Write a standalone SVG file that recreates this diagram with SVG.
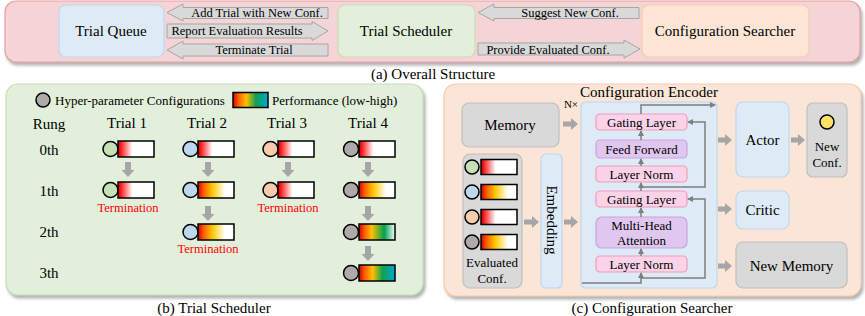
<svg xmlns="http://www.w3.org/2000/svg" width="865" height="316" viewBox="0 0 865 316">
<defs>
<style>
text{font-family:"Liberation Serif","Times New Roman",serif;fill:#000;dominant-baseline:central;text-anchor:middle}
.t15{font-size:15px}
.t13{font-size:13px}
.t12{font-size:12.5px}
.term{font-size:12.5px;fill:#ff0000}
.blk{fill:#d9d9d9;stroke:#a6a6a6;stroke-width:1}
.garr{fill:#a6a6a6}
.blue{fill:#deebf7;stroke:#bdd7ee;stroke-width:1.2}
.green{fill:#e2efda;stroke:#c5e0b4;stroke-width:1.2}
.peach{fill:#fde6d6;stroke:#f8cbad;stroke-width:1.2}
.gray{fill:#d9d9d9;stroke:#bfbfbf;stroke-width:1.2}
.pink{fill:#fbd3e9;stroke:#f29bb8;stroke-width:1.2}
.purp{fill:#e0c7ef;stroke:#c9a3df;stroke-width:1.2}
.c{stroke:#000;stroke-width:1.5}
.r{stroke:#000;stroke-width:1.5}
.cg{fill:#c5e0b4}.cb{fill:#bdd7ee}.cp{fill:#f8cbad}.ck{fill:#aeaaaa}
.ln{fill:none;stroke:#7f7f7f;stroke-width:1.5}
</style>
<filter id="sh" x="-5%" y="-10%" width="110%" height="125%">
<feDropShadow dx="2" dy="3" stdDeviation="1.5" flood-color="#7f7f7f" flood-opacity="0.6"/>
</filter>
<marker id="ah" markerWidth="6" markerHeight="6" refX="5" refY="3" orient="auto" markerUnits="userSpaceOnUse">
<path d="M0,0 L6,3 L0,6 z" fill="#7f7f7f"/>
</marker>
<linearGradient id="gRW" x1="0" y1="0" x2="1" y2="0">
<stop offset="0" stop-color="#c00000"/><stop offset="0.08" stop-color="#ff1a1a"/><stop offset="0.4" stop-color="#ffffff"/><stop offset="1" stop-color="#ffffff"/>
</linearGradient>
<linearGradient id="gROY" x1="0" y1="0" x2="1" y2="0">
<stop offset="0" stop-color="#d00000"/><stop offset="0.15" stop-color="#ff5a00"/><stop offset="0.4" stop-color="#ffc800"/><stop offset="0.75" stop-color="#ffffff"/><stop offset="1" stop-color="#ffffff"/>
</linearGradient>
<linearGradient id="gROYG" x1="0" y1="0" x2="1" y2="0">
<stop offset="0" stop-color="#d00000"/><stop offset="0.15" stop-color="#ff5a00"/><stop offset="0.35" stop-color="#ffc000"/><stop offset="0.7" stop-color="#00a050"/><stop offset="1" stop-color="#f4fff8"/>
</linearGradient>
<linearGradient id="gFull" x1="0" y1="0" x2="1" y2="0">
<stop offset="0" stop-color="#d00000"/><stop offset="0.15" stop-color="#ff5a00"/><stop offset="0.38" stop-color="#ffc000"/><stop offset="0.65" stop-color="#10a050"/><stop offset="1" stop-color="#00a8d0"/>
</linearGradient>
</defs>

<!-- Panel (a) -->
<g id="panel-a">
<rect x="5" y="1" width="855" height="61" rx="11" fill="#f5d4d6" stroke="#e8a0a4" stroke-width="1.2" filter="url(#sh)"/>
<text class="t15" x="433" y="74">(a) Overall Structure</text>
</g>
<g id="trial-queue">
<rect class="blue" x="59" y="5" width="105" height="52" rx="7"/>
<text class="t15" x="111" y="31">Trial Queue</text>
</g>
<g id="trial-scheduler">
<rect class="green" x="338" y="5" width="137" height="52" rx="7"/>
<text class="t15" x="406" y="31">Trial Scheduler</text>
</g>
<g id="configuration-searcher">
<rect class="peach" x="642" y="5" width="167" height="52" rx="7"/>
<text class="t15" x="725" y="31">Configuration Searcher</text>
</g>

<g id="top-connectors">
<polygon class="blk" points="167,12.5 183,4 183,7.5 328,7.5 328,18.5 183,18.5 183,21"/>
<text class="t12" x="257" y="13">Add Trial with New Conf.</text>
<polygon class="blk" points="167,24 312,24 312,21.5 328,31 312,40.5 312,38 167,38"/>
<text class="t12" x="237" y="31">Report Evaluation Results</text>
<polygon class="blk" points="167,50 183,41 183,44 328,44 328,56 183,56 183,59"/>
<text class="t12" x="254" y="50">Terminate Trial</text>
<polygon class="blk" points="478,12.5 494,4 494,7.5 639,7.5 639,18.5 494,18.5 494,21"/>
<text class="t12" x="570" y="13">Suggest New Conf.</text>
<polygon class="blk" points="478,43 624,43 624,40 640,49 624,58 624,55 478,55"/>
<text class="t12" x="548" y="49.5">Provide Evaluated Conf.</text>
</g>

<!-- Panel (b) -->
<g id="panel-b">
<rect x="6" y="84" width="417" height="211" rx="12" fill="#e2efda" stroke="#c5e0b4" stroke-width="1.2" filter="url(#sh)"/>
<text class="t15" x="214" y="308">(b) Trial Scheduler</text>
</g>
<g id="legend">
<circle class="c ck" cx="43" cy="100" r="7"/>
<text class="t13" x="55" y="100" style="text-anchor:start">Hyper-parameter Configurations</text>
<rect class="r" x="233" y="92.5" width="35" height="15" fill="url(#gFull)"/>
<text class="t13" x="272" y="100" style="text-anchor:start">Performance (low-high)</text>
</g>
<g id="headers">
<text class="t15" x="49" y="124">Rung</text>
<text class="t15" x="127" y="123">Trial 1</text>
<text class="t15" x="207" y="123">Trial 2</text>
<text class="t15" x="287" y="123">Trial 3</text>
<text class="t15" x="368" y="123">Trial 4</text>
<text class="t15" x="49" y="150">0th</text>
<text class="t15" x="49" y="191">1th</text>
<text class="t15" x="49" y="232">2th</text>
<text class="t15" x="49" y="273">3th</text>
</g>
<g id="trial1">
<circle class="c cg" cx="110.5" cy="149" r="7.5"/><rect class="r" x="118" y="141" width="36" height="16" fill="url(#gRW)"/>
<circle class="c cg" cx="110.5" cy="190" r="7.5"/><rect class="r" x="118" y="182" width="36" height="16" fill="url(#gRW)"/>
<text class="term" x="128" y="208">Termination</text>
</g>
<g id="trial2">
<circle class="c cb" cx="190.5" cy="149" r="7.5"/><rect class="r" x="198" y="141" width="36" height="16" fill="url(#gRW)"/>
<circle class="c cb" cx="190.5" cy="190" r="7.5"/><rect class="r" x="198" y="182" width="36" height="16" fill="url(#gROY)"/>
<circle class="c cb" cx="190.5" cy="232" r="7.5"/><rect class="r" x="198" y="224" width="36" height="16" fill="url(#gROY)"/>
<text class="term" x="208" y="249">Termination</text>
</g>
<g id="trial3">
<circle class="c cp" cx="270.5" cy="149" r="7.5"/><rect class="r" x="278" y="141" width="36" height="16" fill="url(#gRW)"/>
<circle class="c cp" cx="270.5" cy="190" r="7.5"/><rect class="r" x="278" y="182" width="36" height="16" fill="url(#gRW)"/>
<text class="term" x="288" y="208">Termination</text>
</g>
<g id="trial4">
<circle class="c ck" cx="351" cy="149" r="7.5"/><rect class="r" x="359" y="141" width="36" height="16" fill="url(#gRW)"/>
<circle class="c ck" cx="351" cy="190" r="7.5"/><rect class="r" x="359" y="182" width="36" height="16" fill="url(#gROY)"/>
<circle class="c ck" cx="351" cy="232" r="7.5"/><rect class="r" x="359" y="224" width="36" height="16" fill="url(#gROYG)"/>
<circle class="c ck" cx="351" cy="273" r="7.5"/><rect class="r" x="359" y="265" width="36" height="16" fill="url(#gFull)"/>
</g>
<g id="trial-connectors" class="garr">
<polygon points="125,162 131,162 131,170 134.5,170 128,177 121.5,170 125,170"/>
<polygon points="205,162 211,162 211,170 214.5,170 208,177 201.5,170 205,170"/>
<polygon points="285,162 291,162 291,170 294.5,170 288,177 281.5,170 285,170"/>
<polygon points="365,162 371,162 371,170 374.5,170 368,177 361.5,170 365,170"/>
<polygon points="205,206 211,206 211,214 214.5,214 208,221 201.5,214 205,214"/>
<polygon points="365,206 371,206 371,214 374.5,214 368,221 361.5,214 365,214"/>
<polygon points="365,246 371,246 371,254 374.5,254 368,261 361.5,254 365,254"/>
</g>

<!-- Panel (c) -->
<g id="panel-c">
<rect x="444" y="84" width="417" height="212" rx="12" fill="#fbe5d6" stroke="#f8cbad" stroke-width="1.2" filter="url(#sh)"/>
<text class="t15" x="652" y="308">(c) Configuration Searcher</text>
</g>
<g id="memory">
<rect class="gray" x="462" y="103" width="97" height="44" rx="7"/>
<text class="t15" x="510" y="125">Memory</text>
</g>
<g id="evaluated-conf">
<rect class="gray" x="463" y="154" width="59" height="134" rx="7"/>
<circle class="c cg" cx="472" cy="167" r="7"/><rect class="r" x="481" y="159.5" width="36" height="15" fill="url(#gRW)"/>
<circle class="c cb" cx="472" cy="192" r="7"/><rect class="r" x="481" y="184.5" width="36" height="15" fill="url(#gROY)"/>
<circle class="c cp" cx="472" cy="217" r="7"/><rect class="r" x="481" y="209.5" width="36" height="15" fill="url(#gRW)"/>
<circle class="c ck" cx="472" cy="242" r="7"/><rect class="r" x="481" y="234.5" width="36" height="15" fill="url(#gROY)"/>
<text class="t13" x="492" y="262">Evaluated</text>
<text class="t13" x="492" y="278">Conf.</text>
</g>
<g id="embedding">
<rect class="blue" x="541" y="154" width="21" height="134" rx="5"/>
<text class="t15" x="551.5" y="220" transform="rotate(90 551.5 220)">Embedding</text>
</g>
<g id="configuration-encoder">
<text class="t15" x="649" y="92">Configuration Encoder</text>
<text x="571" y="104" style="font-size:11px">N×</text>
<rect class="blue" x="581" y="102" width="136" height="186" rx="5"/>
</g>
<g id="gating-layer-2">
<rect class="pink" x="596" y="114" width="91" height="16" rx="4"/>
<text class="t13" x="641.5" y="122">Gating Layer</text>
</g>
<g id="feed-forward">
<rect class="purp" x="596" y="140" width="91" height="18" rx="4"/>
<text class="t13" x="641.5" y="149">Feed Forward</text>
</g>
<g id="layer-norm-2">
<rect class="pink" x="596" y="166" width="91" height="16" rx="4"/>
<text class="t13" x="641.5" y="174">Layer Norm</text>
</g>
<g id="gating-layer-1">
<rect class="pink" x="596" y="191" width="91" height="16" rx="4"/>
<text class="t13" x="641.5" y="199">Gating Layer</text>
</g>
<g id="multi-head-attention">
<rect class="purp" x="596" y="217" width="91" height="31" rx="6"/>
<text class="t13" x="641.5" y="225.5">Multi-Head</text>
<text class="t13" x="641.5" y="240">Attention</text>
</g>
<g id="layer-norm-1">
<rect class="pink" x="596" y="256" width="91" height="16" rx="4"/>
<text class="t13" x="641.5" y="264">Layer Norm</text>
</g>
<g id="actor">
<rect class="blue" x="736" y="102" width="53" height="75" rx="7"/>
<text class="t15" x="762.5" y="140">Actor</text>
</g>
<g id="new-conf">
<rect class="gray" x="807" y="103" width="40" height="74" rx="6"/>
<circle cx="827" cy="122" r="7" fill="#ffe066" stroke="#000" stroke-width="1.5"/>
<text class="t13" x="827" y="146">New</text>
<text class="t13" x="827" y="162">Conf.</text>
</g>
<g id="critic">
<rect class="blue" x="736" y="191" width="53" height="38" rx="7"/>
<text class="t15" x="762.5" y="210">Critic</text>
</g>
<g id="new-memory">
<rect class="gray" x="736" y="242" width="111" height="46" rx="7"/>
<text class="t15" x="791.5" y="266">New Memory</text>
</g>

<g id="searcher-connectors">
<g class="garr">
<polygon points="563,121.5 571,121.5 571,118 578,124 571,130 571,126.5 563,126.5"/>
<polygon points="524,219.5 532,219.5 532,216 539,222 532,228 532,224.5 524,224.5"/>
<polygon points="564,219.5 571,219.5 571,216 578,222 571,228 571,224.5 564,224.5"/>
<polygon points="718,137.5 725,137.5 725,134 732,140 725,146 725,142.5 718,142.5"/>
<polygon points="791,137.5 798,137.5 798,134 805,140 798,146 798,142.5 791,142.5"/>
<polygon points="718,206.5 725,206.5 725,203 732,209 725,215 725,211.5 718,211.5"/>
<polygon points="718,263.5 725,263.5 725,260 732,266 725,272 725,268.5 718,268.5"/>
</g>
<path class="ln" d="M582,283 H641 V273" marker-end="url(#ah)"/>
<path class="ln" d="M641,278 H705 V199 H688" marker-end="url(#ah)"/>
<path class="ln" d="M641,256 V249" marker-end="url(#ah)"/>
<path class="ln" d="M641,217 V208" marker-end="url(#ah)"/>
<path class="ln" d="M641,191 V183" marker-end="url(#ah)"/>
<path class="ln" d="M641,187 H705 V122 H688" marker-end="url(#ah)"/>
<path class="ln" d="M641,166 V159" marker-end="url(#ah)"/>
<path class="ln" d="M641,140 V131" marker-end="url(#ah)"/>
<path class="ln" d="M641,114 V105 H715" marker-end="url(#ah)"/>
</g>
</svg>
